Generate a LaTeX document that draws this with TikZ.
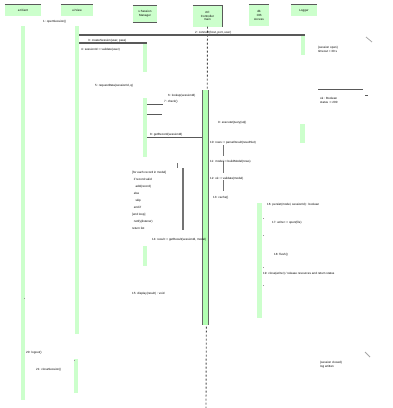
\documentclass[tikz,border=0pt]{standalone}
\usepackage{fontspec}
\setmainfont{Liberation Sans}
\begin{document}
\begin{tikzpicture}[x=1pt,y=-1pt,
    seqHead/.style={fill=green!20,draw=none,inner sep=0pt,align=center,font=\fontsize{3}{3.6}\selectfont},
    seqBar/.style={fill=green!20},
    seqMsg/.style={draw=black!65,line width=1.3pt},
    seqTick/.style={draw=black!55,line width=0.9pt},
    seqTxt/.style={inner sep=0pt,anchor=west,font=\fontsize{3}{3.6}\selectfont},
    seqNote/.style={inner sep=0pt,anchor=west,align=left,font=\fontsize{3}{4.4}\selectfont},
]
\useasboundingbox (0,0) rectangle (392,408);
% Heads
\node[seqHead,minimum width=36pt,minimum height=11pt] (client) at (23,10.5) {a:Client};
\node[seqHead,minimum width=32pt,minimum height=11pt] (ui) at (77,10.5) {ui:View};
\node[seqHead,minimum width=24pt,minimum height=16pt] (sess) at (145,14) {s:Session\\Manager};
\node[seqHead,minimum width=29pt,minimum height=21pt] (ctrl) at (207.5,16) {ctrl:\\Controller\\main};
\node[seqHead,minimum width=20pt,minimum height=21pt] (db) at (259,15.5) {db\\:DB\\Access};
\node[seqHead,minimum width=26pt,minimum height=11pt] (log) at (304,10.5) {Logger};
\foreach \h in {client,ui,sess,ctrl,db,log}
  \draw[seqMsg] (\h.north west) -- (\h.north east);
\draw[seqMsg] (sess.south west) -- (sess.south east);
\draw[seqMsg] (ctrl.north east) -- (ctrl.south east);
% Lifelines
\draw[black!70,line width=0.9pt,dash pattern=on 2pt off 2pt] (ctrl.south) -- (206,408);
\fill[seqBar] (21,26) rectangle (25,400);
\fill[seqBar] (75,26) rectangle (79,334);
\fill[seqBar] (74,359) rectangle (78,393);
\fill[seqBar] (143,43) rectangle (147,72);
\fill[seqBar] (143,98) rectangle (147,157);
\fill[seqBar] (143,246) rectangle (147,266);
\fill[black!60] (201.8,90) rectangle (209.3,325);
\fill[green!30] (203.3,90) rectangle (207.8,325);
\fill[seqBar] (257,203) rectangle (262,318);
\fill[seqBar] (301,35) rectangle (305,55);
\fill[seqBar] (300,124) rectangle (305,143);
% Messages
\coordinate (m1s) at (79,35);
\coordinate (m1e) at (305,35);
\coordinate (m2s) at (79,43);
\coordinate (m2e) at (147,43);
\coordinate (m3s) at (147,104);
\coordinate (m3e) at (163,104);
\coordinate (m4s) at (147,114);
\coordinate (m4e) at (162,114);
\coordinate (m5s) at (147,137);
\coordinate (m5e) at (202,137);
\draw[seqMsg] (m1s) -- (m1e);
\draw[seqMsg] (m2s) -- (m2e);
\draw[seqMsg,line width=0.9pt] (m3s) -- (m3e);
\draw[seqMsg,line width=0.9pt] (m4s) -- (m4e);
\draw[seqMsg,line width=0.9pt] (m5s) -- (m5e);
% Self calls
\draw[seqTick] (223,145) -- (223,156);
\draw[seqTick] (223,161) -- (223,173);
\draw[seqTick] (223,180) -- (223,191);
\draw[seqTick,line width=1.2pt] (183,168) -- (183,230);
\draw[seqTick] (177,163) -- (177,168);
\foreach \y in {218,235,267,285}
  \fill[black!40] (262.5,\y) rectangle (264,\y+1);
% Labels
\node[seqTxt] (t1) at (43,22) {1: openSession()};
\node[seqTxt] (t2) at (195,32.5) {2: connect(host, port, user)};
\node[seqTxt] (t3) at (88,41) {3: createSession(user, pass)};
\node[seqTxt] (t4) at (81,50) {4: sessionId := validate(user)};
\node[seqTxt] (t5) at (95,86) {5: requestData(sessionId, q)};
\node[seqTxt] (t6) at (168,96) {6: lookup(sessionId)};
\node[seqTxt] (t7) at (164,102) {7: check()};
\node[seqTxt] (t8) at (150,135) {8: getRecord(sessionId)};
\node[seqTxt] (t9) at (218,123) {9: executeQuery(sql)};
\node[seqTxt] (t10) at (210,143) {10: rows := parseResult(resultSet)};
\node[seqTxt] (t11) at (210,162) {11: model := buildModel(rows)};
\node[seqTxt] (t12) at (210,179) {12: ok := validate(model)};
\node[seqTxt] (t13) at (213,198) {13: cache()};
\node[seqNote,font=\fontsize{3}{7}\selectfont] (loop) at (132,200) {[for each record in model]\\ \ \ if record.valid\\ \ \ \ \ add(record)\\ \ \ else\\ \ \ \ \ skip\\ \ \ end if\\ {[end loop]}\\ \ \ notify(listener)\\ return list};
\node[seqTxt] (t14) at (152,240) {14: result := getResult(sessionId, model)};
\node[seqTxt] (t15) at (132,294) {15: display(result) : void};
\node[seqTxt] (t16) at (267,205) {16: persist(model, sessionId) : boolean};
\node[seqTxt] (t17) at (272,223) {17: writer := open(file)};
\node[seqTxt] (t18) at (274,255) {18: flush()};
\node[seqTxt] (t19) at (263,274) {19: close(writer) / release resources and return status};
\node[seqTxt] (t20) at (26,353) {20: logout()};
\node[seqTxt] (t21) at (36,370) {21: closeSession()};
% Notes
\node[seqNote] (n1) at (318,49.5) {\{session open\}\\timeout = 30 s};
\draw[black!35,line width=0.8pt] (366,37) -- (372,42);
\draw[seqMsg,line width=1pt] (318,89) -- (363,89);
\draw[seqMsg,line width=1pt] (365,95) -- (368,95);
\node[seqNote] (n2) at (320,100.5) {ok : Boolean\\status := 200};
\node[seqNote] (n3) at (320,364.5) {\{session closed\}\\log written};
\draw[black!35,line width=0.8pt] (365,352) -- (370,357);
\fill[black!40] (23.5,297.5) rectangle (25,299);
\fill[black!40] (73.5,359.5) rectangle (75,361);
\end{tikzpicture}
\end{document}
